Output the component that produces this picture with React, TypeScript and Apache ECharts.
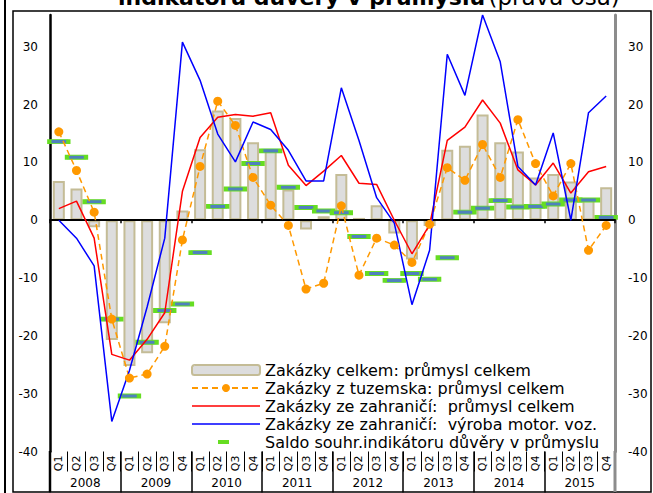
import React, { useEffect, useRef } from "react";
import * as echarts from "echarts";

const years = ["2008", "2009", "2010", "2011", "2012", "2013", "2014", "2015"];
const quarterNames = ["Q1", "Q2", "Q3", "Q4"];

// Zakázky celkem: průmysl celkem (bars)
const ordersTotal = [6.8, 5.5, -1.2, -20.7, -25.2, -23.0, -17.8, 1.7, 12.3, 19.0, 17.7, 13.5, 12.2, 5.3, -1.6, 0.7, 8.0, 0.4, 2.6, -2.3, -6.8, -1.0, 12.2, 12.9, 18.3, 13.5, 11.9, 7.4, 8.0, 6.7, 3.5, 5.7];
// Zakázky z tuzemska: průmysl celkem
const ordersDomestic = [15.3, 8.6, 1.4, -17.1, -27.3, -26.6, -21.8, -3.4, 9.3, 20.6, 16.4, 7.4, 2.6, -0.9, -11.9, -10.9, 2.5, -9.5, -3.1, -4.3, -7.3, -0.7, 9.1, 6.9, 13.1, 7.4, 17.4, 9.8, 4.2, 9.8, -5.2, -0.9];
// Zakázky ze zahraničí: průmysl celkem
const ordersForeign = [2.0, 3.3, -3.1, -23.2, -24.2, -20.6, -16.0, 5.0, 14.3, 17.8, 18.3, 18.0, 18.6, 9.5, 6.0, 8.5, 11.2, 6.4, 6.2, 0.0, -5.8, -0.8, 13.8, 16.1, 20.8, 16.8, 8.7, 6.1, 9.9, 4.7, 8.4, 9.3];
// Zakázky ze zahraničí: výroba motor. voz.
const ordersMotor = [0.0, -3.1, -7.9, -34.8, -26.0, -15.0, -3.1, 30.8, 24.2, 14.9, 10.1, 17.0, 15.7, 12.1, 6.8, 6.8, 22.9, 13.8, 3.9, -0.5, -14.6, -5.2, 28.7, 21.6, 35.5, 27.4, 9.3, 6.1, 15.1, 0.0, 18.6, 21.5];
// Saldo souhr. indikátoru důvěry v průmyslu (right axis)
const confidence = [13.6, 10.9, 3.2, -17.1, -30.4, -21.1, -15.6, -14.5, -5.6, 2.4, 5.4, 9.8, 12.0, 5.7, 2.2, 1.6, 1.3, -2.8, -9.2, -10.4, -9.2, -10.2, -6.5, 1.4, 2.1, 3.4, 2.3, 2.4, 2.8, 3.5, 3.5, 0.5];

const seriesNames = [
  "Zakázky celkem: průmysl celkem",
  "Zakázky z tuzemska: průmysl celkem",
  "Zakázky ze zahraničí:  průmysl celkem",
  "Zakázky ze zahraničí:  výroba motor. voz.",
  "Saldo souhr.indikátoru důvěry v průmyslu",
];

const FONT = "DejaVu Sans";

export default function App() {
  const ref = useRef<HTMLDivElement>(null);
  useEffect(() => {
    document.body.style.margin = "0";
    if (!ref.current) return;
    const chart = echarts.init(ref.current, undefined, { renderer: "svg" });
    const categories = years.flatMap((y) => quarterNames.map((q) => y + " " + q));
    const qLabels = years.flatMap(() => quarterNames);
    const svgIcon = (inner: string) =>
      "image://data:image/svg+xml;charset=utf-8," +
      encodeURIComponent('<svg xmlns="http://www.w3.org/2000/svg" width="68" height="10">' + inner + "</svg>");
    const greenIcon = svgIcon('<rect x="26" y="3" width="11" height="4" fill="#66dd22"/>');
    const redIcon = svgIcon('<rect x="0" y="4.25" width="68" height="1.5" fill="#ff0000"/>');
    const blueIcon = svgIcon('<rect x="0" y="4.25" width="68" height="1.5" fill="#0000ff"/>');
    chart.setOption({
      animation: false,
      backgroundColor: "#ffffff",
      textStyle: { fontFamily: FONT },
      grid: { left: 50, right: 38, top: 15, bottom: 41.5, containLabel: false },
      legend: {
        orient: "vertical",
        left: 186,
        top: 357,
        itemWidth: 68,
        itemHeight: 10,
        itemGap: 2,
        textStyle: { fontFamily: FONT, fontSize: 16, color: "#000", lineHeight: 16 },
        data: [
          seriesNames[0],
          seriesNames[1],
          { name: seriesNames[2], icon: redIcon },
          { name: seriesNames[3], icon: blueIcon },
          { name: seriesNames[4], icon: greenIcon },
        ],
      },
      xAxis: [
        {
          type: "category",
          data: categories,
          axisLine: { onZero: true, lineStyle: { color: "#000", width: 2 } },
          axisTick: { show: true, length: 3, lineStyle: { color: "#000", width: 1.5 } },
          axisLabel: { show: false },
          splitLine: { show: false },
          z: 3,
        },
        {
          type: "category",
          data: qLabels,
          position: "bottom",
          axisLine: { show: false, onZero: false },
          axisTick: { show: true, length: 20, lineStyle: { color: "#000", width: 1 } },
          axisLabel: { rotate: 90, fontSize: 11, color: "#000", margin: 4, fontFamily: FONT, interval: 0 },
          splitLine: { show: false },
        },
        {
          type: "category",
          data: years,
          position: "bottom",
          axisLine: { show: false, onZero: false },
          axisTick: { show: true, length: 41, lineStyle: { color: "#000", width: 1.5 } },
          axisLabel: { fontSize: 12, color: "#000", margin: 25, fontFamily: FONT, interval: 0 },
          splitLine: { show: false },
        },
      ],
      yAxis: [
        {
          type: "value",
          min: -40,
          max: 35.5,
          interval: 10,
          position: "left",
          axisLine: { show: true, onZero: false, lineStyle: { color: "#000", width: 2.5 } },
          axisTick: { show: false },
          splitLine: { show: false },
          axisLabel: { fontSize: 12, color: "#000", margin: 12, showMaxLabel: false, fontFamily: FONT },
        },
        {
          type: "value",
          min: -40,
          max: 35.5,
          interval: 10,
          position: "right",
          axisLine: { show: true, onZero: false, lineStyle: { color: "#8c8c8c", width: 3 } },
          axisTick: { show: false },
          splitLine: { show: false },
          axisLabel: { fontSize: 12, color: "#000", margin: 13, showMaxLabel: false, fontFamily: FONT },
        },
      ],
      series: [
        {
          name: seriesNames[0],
          type: "bar",
          data: ordersTotal,
          barWidth: 12,
          itemStyle: { color: "#dddddd", borderColor: "#c4bc96", borderWidth: 2 },
        },
        {
          name: seriesNames[1],
          type: "line",
          data: ordersDomestic,
          symbol: "circle",
          symbolSize: 9,
          itemStyle: { color: "#ff9900" },
          lineStyle: { color: "#ff9900", width: 1.5, type: [6, 4] },
        },
        {
          name: seriesNames[2],
          type: "line",
          data: ordersForeign,
          symbol: "none",
          itemStyle: { color: "#ff0000" },
          lineStyle: { color: "#ff0000", width: 1.5 },
        },
        {
          name: seriesNames[3],
          type: "line",
          data: ordersMotor,
          symbol: "none",
          itemStyle: { color: "#0000ff" },
          lineStyle: { color: "#0000ff", width: 1.5 },
        },
        {
          name: seriesNames[4],
          type: "scatter",
          yAxisIndex: 1,
          data: confidence,
          symbol: "rect",
          symbolSize: [19, 4],
          itemStyle: { color: "#4f81bd", borderColor: "#66dd22", borderWidth: 2, opacity: 1 },
        },
      ],
      graphic: [
        {
          type: "text",
          x: 118,
          y: -3,
          style: {
            text: "{b|indikátoru důvěry v průmyslu} {n|(pravá osa)}",
            verticalAlign: "middle",
            fill: "#000",
            rich: {
              b: { fontWeight: "bold", fontSize: 22, fontFamily: FONT, fill: "#000" },
              n: { fontSize: 23, fontFamily: FONT, fill: "#000" },
            },
          },
          z: 10,
        },
        {
          type: "rect",
          shape: { x: 13, y: 11, width: 638, height: 481 },
          style: { fill: "none", stroke: "#000", lineWidth: 1.5 },
          z: 10,
        },
        {
          type: "line",
          shape: { x1: 5, y1: 0, x2: 5, y2: 493 },
          style: { stroke: "#000", lineWidth: 2 },
          z: 10,
        },
        {
          type: "line",
          shape: { x1: 50, y1: 451, x2: 50, y2: 492 },
          style: { stroke: "#000", lineWidth: 2.5 },
          z: 10,
        },
        {
          type: "line",
          shape: { x1: 615, y1: 451, x2: 615, y2: 492 },
          style: { stroke: "#8c8c8c", lineWidth: 3 },
          z: 10,
        },
      ],
    });
    return () => chart.dispose();
  }, []);
  return <div ref={ref} style={{ width: 653, height: 493 }} />;
}
